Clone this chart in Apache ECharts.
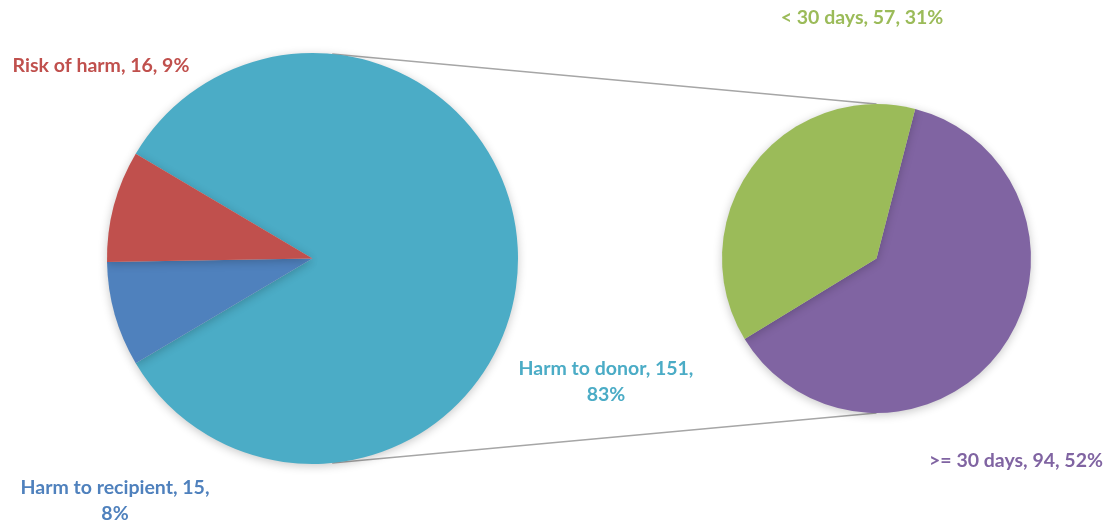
<!DOCTYPE html>
<html>
<head>
<meta charset="utf-8">
<script src="https://cdn.jsdelivr.net/npm/echarts@6/dist/echarts.min.js"></script>
<style>
html,body{margin:0;padding:0;background:#fff;}
#c{width:1111px;height:525px;}
</style>
</head>
<body>
<div id="c"></div>
<script>
// Data
const mainNames = ['Harm to donor', 'Harm to recipient', 'Risk of harm'];
const mainValues = [151, 15, 16];
const subNames = ['>= 30 days', '< 30 days'];
const subValues = [94, 57];

const mainColors = ['#4BACC6', '#4F81BD', '#C0504D'];
const subColors = ['#8064A2', '#9BBB59'];

const total = mainValues.reduce((a, b) => a + b, 0);

// Geometry
const L = { cx: 312.5, cy: 258.5, r: 205.5 };
const R = { cx: 876.5, cy: 258.5, r: 154.5 };

const mainLabelPos = [[606, 382], [115, 501], [101, 66]];
const subLabelPos = [[1016, 461], [862, 18]];

const chart = echarts.init(document.getElementById('c'), null, { renderer: 'canvas' });

function pct(v) { return Math.round(v / total * 100) + '%'; }

const labelStyleBase = {
  fontFamily: 'Lato, "Open Sans", sans-serif',
  fontWeight: 'bold',
  fontSize: 19.5,
  lineHeight: 26,
  align: 'center'
};

const wrapIdx = { 'Harm to donor': true, 'Harm to recipient': true };

const mainData = mainNames.map((n, i) => ({
  name: n, value: mainValues[i],
  itemStyle: { color: mainColors[i] },
  label: Object.assign({ color: mainColors[i] }, labelStyleBase)
}));
const subData = subNames.map((n, i) => ({
  name: n, value: subValues[i],
  itemStyle: { color: subColors[i] },
  label: Object.assign({ color: subColors[i] }, labelStyleBase)
}));

const donorAngle = mainValues[0] / total * 360;
const leftStart = donorAngle / 2;

const rad = Math.PI / 180;
const la = 84.5;
const p1 = [L.cx + L.r * Math.cos(la * rad), L.cy - L.r * Math.sin(la * rad)];
const p2 = [L.cx + L.r * Math.cos(la * rad), L.cy + L.r * Math.sin(la * rad)];
const q1 = [R.cx, R.cy - R.r];
const q2 = [R.cx, R.cy + R.r];

const shadow = { shadowBlur: 10, shadowColor: 'rgba(0,0,0,0.22)', shadowOffsetX: 0, shadowOffsetY: 2 };

chart.setOption({
  animation: false,
  backgroundColor: '#ffffff',
  graphic: [
    { type: 'line', z: 0, shape: { x1: p1[0], y1: p1[1], x2: q1[0], y2: q1[1] }, style: { stroke: '#A6A6A6', lineWidth: 1.5 } },
    { type: 'line', z: 0, shape: { x1: p2[0], y1: p2[1], x2: q2[0], y2: q2[1] }, style: { stroke: '#A6A6A6', lineWidth: 1.5 } }
  ],
  series: [
    {
      type: 'pie',
      center: [L.cx, L.cy],
      radius: [0, L.r],
      startAngle: leftStart,
      clockwise: true,
      avoidLabelOverlap: false,
      data: mainData,
      itemStyle: Object.assign({ borderWidth: 0 }, shadow),
      emphasis: { disabled: true },
      labelLine: { show: false },
      label: {
        show: true,
        position: 'outside',
        formatter: p => wrapIdx[p.name]
          ? p.name + ', ' + p.value + ',\n' + pct(p.value)
          : p.name + ', ' + p.value + ', ' + pct(p.value)
      },
      labelLayout: p => ({
        x: mainLabelPos[p.dataIndex][0],
        y: mainLabelPos[p.dataIndex][1],
        align: 'center',
        verticalAlign: 'middle'
      })
    },
    {
      type: 'pie',
      center: [R.cx, R.cy],
      radius: [0, R.r],
      startAngle: 75.5,
      clockwise: true,
      avoidLabelOverlap: false,
      data: subData,
      itemStyle: Object.assign({ borderWidth: 0 }, shadow),
      emphasis: { disabled: true },
      labelLine: { show: false },
      label: {
        show: true,
        position: 'outside',
        formatter: p => p.name + ', ' + p.value + ', ' + pct(p.value)
      },
      labelLayout: p => ({
        x: subLabelPos[p.dataIndex][0],
        y: subLabelPos[p.dataIndex][1],
        align: 'center',
        verticalAlign: 'middle'
      })
    }
  ]
});
</script>
</body>
</html>
